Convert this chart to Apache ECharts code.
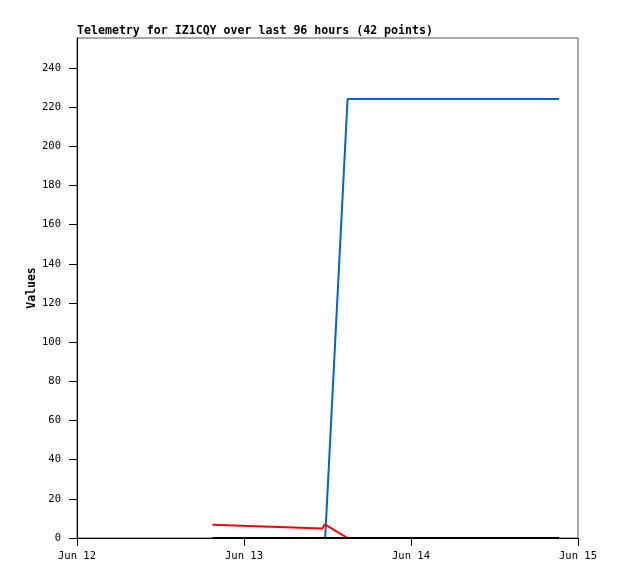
<!DOCTYPE html>
<html>
<head>
<meta charset="utf-8">
<script src="https://cdn.jsdelivr.net/npm/echarts@6/dist/echarts.min.js"></script>
<style>
html,body{margin:0;padding:0;background:#fff;}
#c{width:618px;height:579px;}
</style>
</head>
<body>
<div id="c"></div>
<script>
var titleText = 'Telemetry for IZ1CQY over last 96 hours (42 points)';
var yName = 'Values';
var xTickLabels = ['Jun 12', 'Jun 13', 'Jun 14', 'Jun 15'];
var yTicks = [0, 20, 40, 60, 80, 100, 120, 140, 160, 180, 200, 220, 240];

var blueTimes = ['2024-06-13T11:17', '2024-06-13T11:40', '2024-06-13T14:53', '2024-06-14T21:16'];
var blueValues = [0, 0, 224.2, 224.2];

var redTimes = ['2024-06-12T19:28', '2024-06-13T11:17', '2024-06-13T11:36', '2024-06-13T14:53', '2024-06-14T21:16'];
var redValues = [6.8, 4.8, 7.0, 0, 0];

var blackTimes = ['2024-06-12T19:28', '2024-06-14T21:16'];
var blackValues = [0, 0];

function ms(s) { return Date.parse(s + ':00Z'); }
function pairs(t, v) { return t.map(function (x, i) { return [ms(x), v[i]]; }); }

var DAY = 86400000;
var xMin = ms('2024-06-12T00:00');
var xMax = ms('2024-06-15T00:00');
var font = '"DejaVu Sans Mono", "Liberation Mono", monospace';

var chart = echarts.init(document.getElementById('c'), null, {renderer: 'canvas'});
chart.setOption({
  animation: false,
  backgroundColor: '#ffffff',
  title: {
    text: titleText,
    left: 77,
    top: 25,
    padding: 0,
    textStyle: {fontFamily: font, fontSize: 11.6, fontWeight: 'bold', color: '#000'}
  },
  grid: {
    left: 77, right: 40, top: 38, bottom: 41,
    show: true, borderColor: '#555', borderWidth: 1, backgroundColor: 'transparent'
  },
  xAxis: {
    type: 'value',
    min: xMin, max: xMax, interval: DAY,
    splitLine: {show: false},
    axisLine: {show: true, lineStyle: {color: '#000', width: 1}},
    axisTick: {show: true, inside: false, length: 8, lineStyle: {color: '#000'}},
    axisLabel: {
      margin: 13, color: '#000', fontFamily: font, fontSize: 10.5,
      formatter: function (v) { return xTickLabels[Math.round((v - xMin) / DAY)] || ''; }
    }
  },
  yAxis: {
    type: 'value',
    min: 0, max: 255.3, interval: 20,
    name: yName, nameLocation: 'middle', nameGap: 39, nameMoveOverlap: false,
    nameTextStyle: {fontFamily: font, fontSize: 11.5, fontWeight: 'bold', color: '#000'},
    splitLine: {show: false},
    axisLine: {show: true, lineStyle: {color: '#000', width: 1}},
    axisTick: {show: true, inside: false, length: 8, lineStyle: {color: '#000'}, customValues: yTicks},
    axisLabel: {
      margin: 16, color: '#000', fontFamily: font, fontSize: 10.5,
      customValues: yTicks
    }
  },
  series: [
    {type: 'line', data: pairs(blueTimes, blueValues), showSymbol: false, symbol: 'none',
     lineStyle: {color: '#0066cc', width: 2}, itemStyle: {color: '#0066cc'}},
    {type: 'line', data: pairs(redTimes, redValues), showSymbol: false, symbol: 'none',
     lineStyle: {color: '#ff0000', width: 2}, itemStyle: {color: '#ff0000'}},
    {type: 'line', data: pairs(blackTimes, blackValues), showSymbol: false, symbol: 'none',
     lineStyle: {color: '#000000', width: 2}, itemStyle: {color: '#000'}}
  ]
});
</script>
</body>
</html>
